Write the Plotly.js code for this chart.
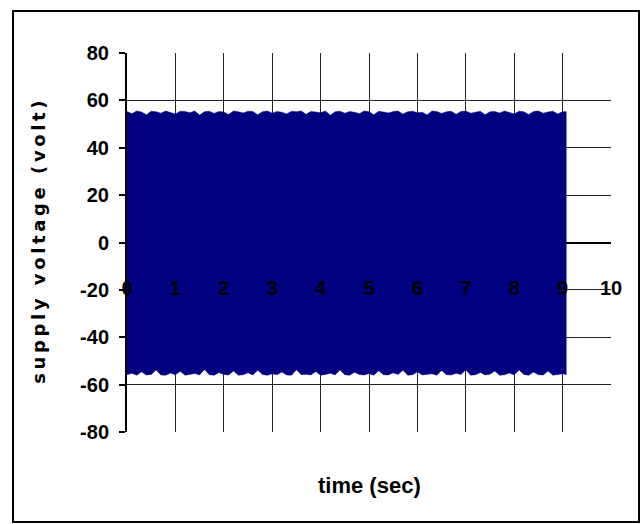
<!DOCTYPE html>
<html>
<head>
<meta charset="utf-8">
<script src="https://cdn.plot.ly/plotly-3.0.1.min.js"></script>
<style>
  html, body { margin: 0; padding: 0; background: #fff; }
  #chart { width: 641px; height: 524px; }
  /* widen the rotated y-axis caption */
  .annotation[data-index="1"] .annotation-text { letter-spacing: 3.6px; }
</style>
</head>
<body>
<div id="chart"></div>
<script>
// Supply voltage envelope: crest and trough of the mains waveform,
// sampled every 0.1 s until the supply is switched off at ~9.08 s.
const envelopeTimes = [
  0.0, 0.1, 0.2, 0.3, 0.4, 0.5, 0.6, 0.7, 0.8, 0.9,
  1.0, 1.1, 1.2, 1.3, 1.4, 1.5, 1.6, 1.7, 1.8, 1.9,
  2.0, 2.1, 2.2, 2.3, 2.4, 2.5, 2.6, 2.7, 2.8, 2.9,
  3.0, 3.1, 3.2, 3.3, 3.4, 3.5, 3.6, 3.7, 3.8, 3.9,
  4.0, 4.1, 4.2, 4.3, 4.4, 4.5, 4.6, 4.7, 4.8, 4.9,
  5.0, 5.1, 5.2, 5.3, 5.4, 5.5, 5.6, 5.7, 5.8, 5.9,
  6.0, 6.1, 6.2, 6.3, 6.4, 6.5, 6.6, 6.7, 6.8, 6.9,
  7.0, 7.1, 7.2, 7.3, 7.4, 7.5, 7.6, 7.7, 7.8, 7.9,
  8.0, 8.1, 8.2, 8.3, 8.4, 8.5, 8.6, 8.7, 8.8, 8.9,
  9.0, 9.08
];

const crestVolts = [
  55.3, 54.4, 55.5, 55.1, 53.9, 55.4, 55.2, 54.6, 55.5, 55.0,
  54.2, 55.4, 55.3, 54.8, 55.5, 53.8, 55.2, 55.4, 54.5, 55.3,
  55.1, 54.0, 55.5, 55.2, 54.7, 55.4, 55.3, 53.9, 55.2, 55.5,
  54.6, 55.3, 55.0, 54.3, 55.4, 55.2, 55.5, 54.1, 55.3, 55.1,
  54.8, 55.5, 53.7, 55.2, 55.4, 54.6, 55.3, 55.0, 54.4, 55.5,
  55.2, 53.9, 55.4, 55.1, 54.7, 55.3, 55.5, 54.2, 55.2, 55.4,
  54.8, 55.0, 53.8, 55.5, 55.3, 54.5, 55.2, 55.4, 54.1, 55.3,
  55.5, 54.6, 55.1, 55.4, 53.9, 55.2, 55.3, 54.7, 55.5, 55.0,
  54.3, 55.4, 55.2, 54.0, 55.3, 55.5, 54.6, 55.1, 55.4, 54.2,
  55.3, 55.2
];

const troughVolts = [
  -55.8, -55.2, -56.0, -54.6, -55.9, -55.7, -53.8, -55.9, -56.0, -55.1,
  -55.8, -54.4, -56.0, -55.7, -55.3, -55.9, -53.6, -55.8, -56.0, -54.9,
  -55.7, -55.9, -54.2, -56.0, -55.8, -55.0, -55.9, -53.9, -55.7, -56.0,
  -55.4, -55.8, -54.7, -55.9, -56.0, -53.7, -55.8, -55.6, -55.9, -54.5,
  -56.0, -55.7, -55.2, -55.9, -53.8, -55.8, -56.0, -54.8, -55.7, -55.9,
  -55.3, -56.0, -54.1, -55.8, -55.9, -55.0, -55.7, -53.9, -56.0, -55.8,
  -54.6, -55.9, -55.7, -55.4, -56.0, -54.0, -55.8, -55.9, -55.2, -55.7,
  -53.7, -56.0, -55.8, -54.9, -55.9, -55.6, -54.3, -56.0, -55.8, -55.1,
  -55.9, -53.8, -55.7, -56.0, -54.7, -55.8, -55.9, -54.2, -56.0, -55.7,
  -55.4, -55.8
];

const timeTicks = [0, 1, 2, 3, 4, 5, 6, 7, 8, 9, 10];
const timeTickLabels = ['0', '1', '2', '3', '4', '5', '6', '7', '8', '9', '10'];
const voltTicks = [-80, -60, -40, -20, 0, 20, 40, 60, 80];
const voltTickLabels = ['-80', '-60', '-40', '-20', '0', '20', '40', '60', '80'];

const xTitle = 'time (sec)';
const yTitle = 'supply voltage (volt)';

const waveColor = '#000080';
const tickFont = { family: '"Liberation Sans", Arial, sans-serif', size: 20, color: '#000', weight: 'bold' };
const xTitleFont = { family: '"Liberation Sans", Arial, sans-serif', size: 22, color: '#000', weight: 'bold' };
const yTitleFont = { family: '"DejaVu Sans", "Liberation Sans", Arial, sans-serif', size: 18, color: '#000', weight: 'bold' };

const traces = [
  {
    x: envelopeTimes, y: troughVolts,
    type: 'scatter', mode: 'lines',
    line: { color: waveColor, width: 0.5 },
    hoverinfo: 'skip', showlegend: false
  },
  {
    x: envelopeTimes, y: crestVolts,
    type: 'scatter', mode: 'lines',
    fill: 'tonexty', fillcolor: waveColor,
    line: { color: waveColor, width: 0.5 },
    hoverinfo: 'skip', showlegend: false
  }
];

// plot area: 127..611 px horizontally, 53..432 px vertically
const L = 127, R = 30, T = 53, B = 92, W = 641, H = 524;
const pw = W - L - R, ph = H - T - B;
const px = v => (v - L) / pw;
const py = v => (H - B - v) / ph;

const layout = {
  width: W, height: H,
  margin: { l: L, r: R, t: T, b: B, pad: 0 },
  paper_bgcolor: '#fff', plot_bgcolor: '#fff',
  showlegend: false,
  xaxis: {
    range: [0, 10],
    tickmode: 'array', tickvals: timeTicks, ticktext: timeTickLabels,
    anchor: 'free', position: 0.5,
    showline: false, ticks: '',
    ticklabelstandoff: 31,
    tickfont: tickFont,
    showgrid: true, gridcolor: '#222', gridwidth: 1,
    zeroline: false, layer: 'above traces', fixedrange: true
  },
  yaxis: {
    range: [-80, 80],
    tickmode: 'array', tickvals: voltTicks, ticktext: voltTickLabels,
    showline: true, linecolor: '#000', linewidth: 2,
    ticks: 'outside', ticklen: 6, tickwidth: 2, tickcolor: '#000',
    ticklabelstandoff: 6,
    tickfont: tickFont,
    showgrid: true, gridcolor: '#222', gridwidth: 1,
    zeroline: true, zerolinecolor: '#000', zerolinewidth: 2,
    fixedrange: true
  },
  annotations: [
    {
      text: xTitle, xref: 'paper', yref: 'paper',
      x: 0.5, y: py(485), xanchor: 'center', yanchor: 'middle',
      showarrow: false, font: xTitleFont
    },
    {
      text: yTitle, xref: 'paper', yref: 'paper',
      x: px(38), y: py(241), xanchor: 'center', yanchor: 'middle',
      textangle: -90, showarrow: false, font: yTitleFont
    }
  ],
  shapes: [
    {
      type: 'rect', xref: 'paper', yref: 'paper',
      x0: px(13), x1: px(639), y0: py(522), y1: py(11),
      line: { color: '#000', width: 2 }, fillcolor: 'rgba(0,0,0,0)'
    }
  ]
};

Plotly.newPlot('chart', traces, layout, { staticPlot: true, displayModeBar: false });
</script>
</body>
</html>
